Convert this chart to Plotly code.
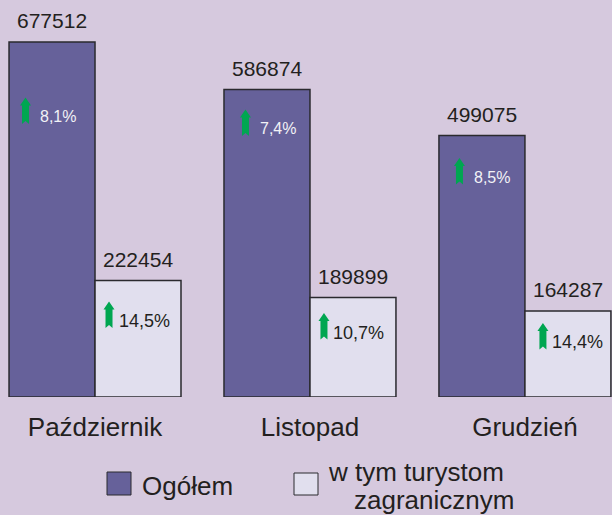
import plotly.graph_objects as go

# ---- data ----
months = ["Październik", "Listopad", "Grudzień"]
ogolem = [677512, 586874, 499075]
zagraniczni = [222454, 189899, 164287]
pct_ogolem = ["8,1%", "7,4%", "8,5%"]
pct_zagr = ["14,5%", "10,7%", "14,4%"]
series_names = ["Ogółem", "w tym turystom<br>zagranicznym"]

# ---- style ----
BG = "#D6C9DE"
DARK = "#66619A"
LIGHT = "#E1DFEE"
EDGE = "#2A2A2E"
GREEN = "#00A651"
TXT = "#231F20"
FONT = "Liberation Sans, Arial, sans-serif"
W, H = 612, 515
PLOT_H = 397  # plot area height in px (margin bottom = H - PLOT_H)

# label offsets (px) relative to bar top: (dx, dy_down)
dark_lbl = [(6, 75), (11, 39.5), (10, 42)]
light_lbl = [(6, 40.5), (6, 35), (10, 31.5)]

xs = list(range(len(months)))
half = 0.2  # half of group width share (bargap 0.2, two bars)

fig = go.Figure()
fig.add_trace(go.Bar(x=xs, y=ogolem, name="Ogółem",
                     marker=dict(color=DARK, line=dict(color=EDGE, width=1.5)),
                     showlegend=False, hoverinfo="skip"))
fig.add_trace(go.Bar(x=xs, y=zagraniczni, name="w tym turystom zagranicznym",
                     marker=dict(color=LIGHT, line=dict(color=EDGE, width=1.5)),
                     showlegend=False, hoverinfo="skip"))

annotations = []
shapes = []


def arrow_path(cx, bottom, top):
    hw_head, hw_shaft, head_h, notch = 5.5, 3.5, 8, 3
    pts = [(cx, top), (cx + hw_head, top - head_h), (cx + hw_shaft, top - head_h),
           (cx + hw_shaft, bottom), (cx, bottom + notch), (cx - hw_shaft, bottom),
           (cx - hw_shaft, top - head_h), (cx - hw_head, top - head_h)]
    return "M " + " L ".join(f"{x:.1f},{y:.1f}" for x, y in pts) + " Z"


for i in xs:
    for vals, pcts, lbls, off, pcol, psize, arrow_dx in (
        (ogolem, pct_ogolem, dark_lbl, -half, "#F2F2F6", 16, -32.5),
        (zagraniczni, pct_zagr, light_lbl, half, TXT, 18, -35),
    ):
        xc = i + off
        v = vals[i]
        # value label above bar
        annotations.append(dict(x=xc, y=v, xref="x", yref="y", text=str(v),
                                showarrow=False, yanchor="middle", yshift=21,
                                font=dict(family=FONT, size=21, color=TXT)))
        dx, dy = lbls[i]
        annotations.append(dict(x=xc, y=v, xref="x", yref="y", text=pcts[i],
                                showarrow=False, xanchor="center", yanchor="middle",
                                xshift=dx, yshift=-dy,
                                font=dict(family=FONT, size=psize, color=pcol)))
        shapes.append(dict(type="path", xref="x", yref="y",
                           xsizemode="pixel", ysizemode="pixel",
                           xanchor=xc, yanchor=v,
                           path=arrow_path(dx + arrow_dx, -(dy + 7), -(dy - 19.5)),
                           fillcolor=GREEN, line=dict(width=0)))


def px(x):
    return x / W


def py(y):
    return (PLOT_H - y) / PLOT_H


# custom legend
shapes.append(dict(type="rect", xref="paper", yref="paper",
                   x0=px(107), x1=px(131), y0=py(495), y1=py(472),
                   fillcolor=DARK, line=dict(color=EDGE, width=1)))
shapes.append(dict(type="rect", xref="paper", yref="paper",
                   x0=px(294), x1=px(318), y0=py(495), y1=py(473),
                   fillcolor=LIGHT, line=dict(color=EDGE, width=1)))
annotations.append(dict(x=px(140), y=py(486), xref="paper", yref="paper",
                        text=series_names[0], showarrow=False, xanchor="left",
                        yanchor="middle", font=dict(family=FONT, size=26, color=TXT)))
lines = series_names[1].split("<br>")
annotations.append(dict(x=px(326), y=py(472), xref="paper", yref="paper",
                        text=lines[0], showarrow=False, xanchor="left",
                        yanchor="middle", font=dict(family=FONT, size=26, color=TXT)))
annotations.append(dict(x=px(352), y=py(500), xref="paper", yref="paper",
                        text=lines[1], showarrow=False, xanchor="left",
                        yanchor="middle", font=dict(family=FONT, size=26, color=TXT)))

fig.update_layout(
    width=W, height=H,
    margin=dict(l=0, r=0, t=0, b=H - PLOT_H, pad=0),
    paper_bgcolor=BG, plot_bgcolor=BG,
    barmode="group", bargap=0.2, bargroupgap=0,
    xaxis=dict(range=[-0.442, 2.405], tickvals=xs, ticktext=months,
               showgrid=False, zeroline=False, showline=False,
               ticks="outside", ticklen=7, tickcolor="rgba(0,0,0,0)",
               tickfont=dict(family=FONT, size=26, color=TXT), fixedrange=True),
    yaxis=dict(range=[0, 757650], visible=False, fixedrange=True),
    annotations=annotations, shapes=shapes,
    font=dict(family=FONT, color=TXT),
)

fig.write_html("out.html", config={"displayModeBar": False},
               post_script="document.body.style.margin='0';document.body.style.padding='0';"
                           "document.body.style.background='" + BG + "';"
                           "document.body.style.overflow='hidden';")
